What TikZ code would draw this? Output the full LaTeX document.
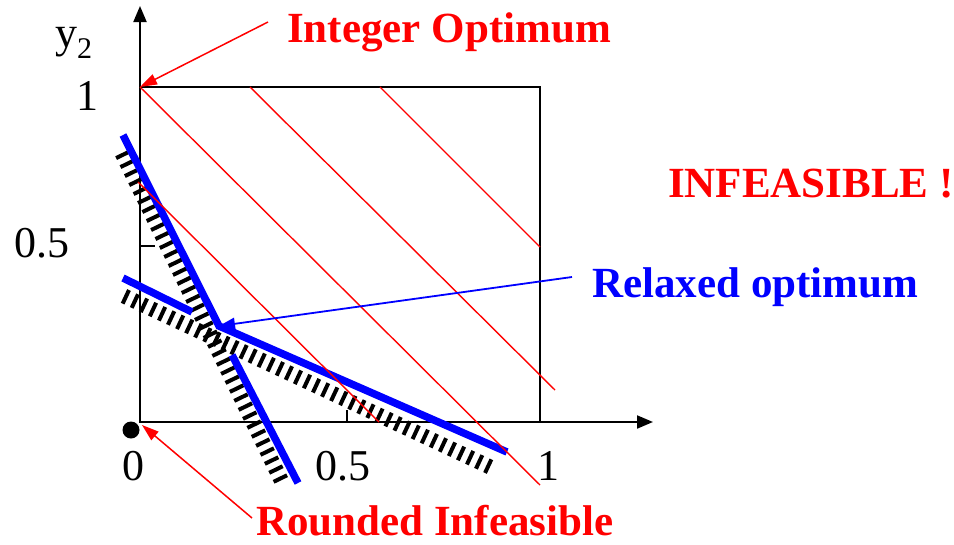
\documentclass[tikz,border=0pt]{standalone}
\usepackage{fontspec}
\setmainfont{Liberation Serif}
\usetikzlibrary{arrows.meta}
\begin{document}
\begin{tikzpicture}[x=1pt,y=-1pt,
  axisline/.style={line width=2pt,black},
  boxline/.style={line width=1.8pt,black},
  redline/.style={line width=1.4pt,red},
  blueline/.style={line width=7.5pt,blue},
  hatch/.style={line width=15pt,black,dash pattern=on 4pt off 6pt},
  lbl/.style={anchor=base west,inner sep=0pt,font=\fontsize{44}{44}\selectfont},
  redtxt/.style={anchor=base west,inner sep=0pt,text=red,font=\fontsize{43}{43}\selectfont\bfseries},
  bluetxt/.style={anchor=base west,inner sep=0pt,text=blue,font=\fontsize{43}{43}\selectfont\bfseries},
  tip/.style={-{Triangle[length=16pt,width=13pt]}}
]
\useasboundingbox (0,0) rectangle (954,544);
% coordinates
\coordinate (O) at (140,422);
\coordinate (ytop) at (140,6);
\coordinate (xend) at (653,422);
\coordinate (c1) at (140,87);
\coordinate (c2) at (540,87);
\coordinate (c3) at (540,422);
% hatched bands
\coordinate (h1a) at (122,153); \coordinate (h1b) at (283,484);
\coordinate (h2a) at (124,296); \coordinate (h2b) at (490,467);
\draw[hatch] (h1a) -- (h1b);
\draw[hatch] (h2a) -- (h2b);
% axes and box
\draw[axisline,tip] (O) -- (ytop);
\draw[axisline,tip] (139,422) -- (xend);
\draw[boxline] (c1) -- (c2) -- (c3);
\coordinate (ty1) at (140,246); \coordinate (ty2) at (155,246);
\draw[line width=1.5pt] (ty1) -- (ty2);
\coordinate (tx1) at (347,422); \coordinate (tx2) at (347,410);
\draw[line width=1.2pt] (tx1) -- (tx2);
% blue constraint lines
\coordinate (b1a) at (123,135); \coordinate (R) at (219,326); \coordinate (b2b) at (507,452);
\coordinate (b3a) at (123,278); \coordinate (b3b) at (192,312);
\coordinate (b4a) at (232,355); \coordinate (b4b) at (298,483);
\draw[blueline,line join=miter] (b1a) -- (R) -- (b2b);
\draw[blueline] (b3a) -- (b3b);
\draw[blueline] (b4a) -- (b4b);
% red objective lines
\coordinate (l1b) at (540,485);
\coordinate (l2a) at (138,182); \coordinate (l2b) at (379,422);
\coordinate (l3a) at (250,87); \coordinate (l3b) at (555,390);
\coordinate (l4a) at (380,87); \coordinate (l4b) at (540,247);
\draw[redline] (c1) -- (l1b);
\draw[redline] (l2a) -- (l2b);
\draw[redline] (l3a) -- (l3b);
\draw[redline] (l4a) -- (l4b);
% dot
\fill[black] (131,430) circle (8.5pt);
% labels
\node[lbl] (ly) at (55,47) {y\raisebox{-0.25em}{\fontsize{30}{30}\selectfont 2}};
\node[lbl] (l1y) at (76,110) {1};
\node[lbl] (l05y) at (14,257) {0.5};
\node[lbl] (l0x) at (122,480) {0};
\node[lbl] (l05x) at (315,480) {0.5};
\node[lbl] (l1x) at (537,480) {1};
% texts
\node[redtxt] (io) at (287,42) {Integer Optimum};
\node[redtxt] (inf) at (668,197) {INFEASIBLE !};
\node[bluetxt] (ro) at (592,297) {Relaxed optimum};
\node[redtxt] (ri) at (256,535) {Rounded Infeasible};
% arrows
\coordinate (a1) at (268,22);
\coordinate (a2) at (572,277);
\coordinate (a3) at (252,518);
\coordinate (A0) at (142,425);
\draw[red,line width=1.5pt,-{Triangle[length=17pt,width=11pt]}] (a1) -- (c1);
\draw[blue,line width=1.8pt,-{Triangle[length=16pt,width=12pt]}] (a2) -- (R);
\draw[red,line width=1.5pt,-{Triangle[length=17pt,width=11pt]}] (a3) -- (A0);
\end{tikzpicture}
\end{document}
